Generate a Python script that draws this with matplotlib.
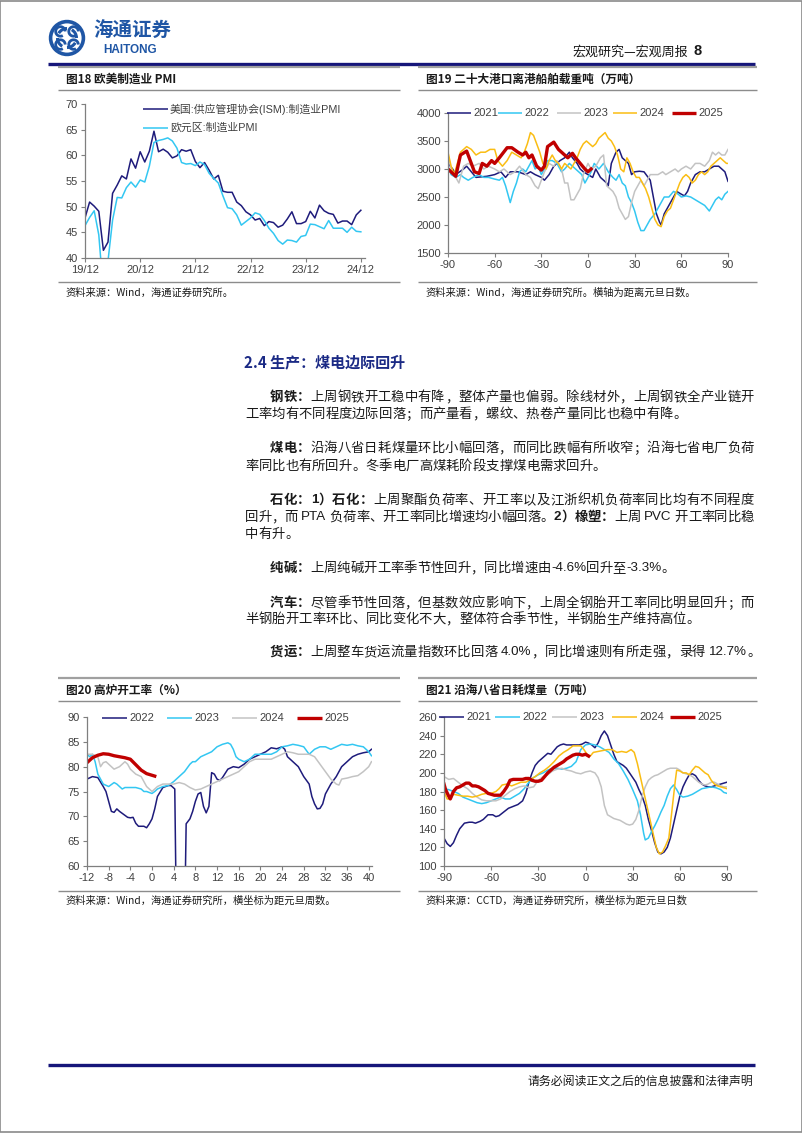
import re
import matplotlib
matplotlib.use('Agg')
import matplotlib.pyplot as plt
from matplotlib.lines import Line2D
from matplotlib.patches import Rectangle, Circle, Arc

plt.rcParams['font.family'] = ['Noto Sans CJK SC', 'DejaVu Sans']
plt.rcParams['axes.unicode_minus'] = False

##-----------------------data--------------------------------##
# fig18: monthly PMI, 19/12 .. 24/12
pmi_ticks = ['19/12', '20/12', '21/12', '22/12', '23/12', '24/12']
ism = [47.8, 50.9, 50.1, 49.1, 41.5, 43.1, 52.6, 54.2, 56.0, 55.4, 59.3, 57.5,
       60.7, 58.7, 60.8, 64.7, 60.7, 61.2, 60.6, 59.5, 59.9, 61.1, 60.8, 61.1,
       58.8, 57.6, 58.6, 57.1, 55.4, 56.1, 53.0, 52.8, 52.8, 50.9, 50.2, 49.0,
       48.4, 47.4, 47.7, 46.3, 47.1, 46.9, 46.0, 46.4, 47.6, 49.0, 46.7, 46.7,
       47.1, 49.1, 47.8, 50.3, 49.2, 48.7, 48.5, 46.8, 47.2, 47.2, 46.5, 48.4, 49.3]
ez = [46.3, 47.9, 49.2, 44.5, 33.4, 39.4, 47.4, 51.8, 51.7, 53.7, 54.8, 53.8,
      55.2, 54.8, 57.9, 62.5, 62.9, 63.1, 63.4, 62.8, 61.4, 58.6, 58.3, 58.4,
      58.0, 58.7, 58.2, 56.5, 55.5, 54.6, 52.1, 49.8, 49.6, 48.4, 46.4, 47.1,
      47.8, 48.8, 48.5, 47.3, 45.8, 44.8, 43.4, 42.7, 43.5, 43.4, 43.1, 44.2,
      44.4, 46.6, 46.5, 46.1, 45.7, 47.3, 45.8, 45.8, 45.8, 45.0, 46.0, 45.2, 45.1]

# fig19: port departures, days from new year
ship_x21 = [-90, -87, -85, -80, -78, -75, -72, -65, -60, -56, -53, -50, -45, -40, -37, -34, -30, -28, -25,
            -22, -18, -15, -12, -10, -7, -5, -3, 0, 3, 5, 8, 12, 13, 15, 18, 20, 22, 24, 26, 28, 30, 33,
            36, 40, 42, 44, 46, 47, 49, 52, 55, 57, 60, 62, 64, 66, 69, 72, 75, 78, 81, 84, 86, 88, 90]
ship_y21 = [3100, 3000, 2900, 3000, 3050, 2950, 2850, 2870, 2900, 2950, 2850, 2950, 2950, 2900, 2950, 2900,
            2850, 2800, 2900, 3050, 3150, 3200, 3300, 3200, 3100, 3000, 2950, 2900, 2850, 3000, 2850, 2750,
            2700, 3100, 3300, 3350, 3200, 3150, 3100, 2900, 2950, 2960, 2950, 2800, 2500, 2200, 2050, 2000,
            2200, 2350, 2500, 2600, 2550, 2520, 2600, 2750, 2900, 2950, 2950, 3000, 3050, 3050, 3000, 2950, 2780]
ship_x22 = [-90, -88, -85, -82, -80, -77, -74, -70, -67, -64, -60, -57, -55, -53, -50, -48, -46, -44, -42,
            -40, -38, -36, -34, -32, -30, -28, -26, -23, -20, -17, -15, -12, -10, -8, -6, -4, -2, 0, 2, 4,
            7, 10, 13, 16, 18, 20, 22, 24, 26, 28, 30, 32, 34, 36, 38, 40, 43, 46, 49, 52, 55, 58, 60, 63,
            66, 69, 72, 75, 78, 80, 82, 84, 86, 88, 90]
ship_y22 = [3050, 2900, 2850, 2900, 2850, 2800, 2850, 2900, 2850, 2850, 2820, 2800, 2850, 2700, 2400, 2600,
            2750, 2950, 3000, 2950, 3050, 3150, 3000, 3050, 2900, 3000, 3150, 3150, 3100, 2950, 3000, 3100,
            3050, 3000, 2950, 2900, 2750, 2850, 2950, 3100, 3000, 3100, 2950, 2850, 2800, 2900, 2750, 2700,
            2500, 2400, 2250, 2050, 1900, 1900, 2000, 2100, 2200, 2350, 2500, 2500, 2600, 2550, 2500, 2520,
            2500, 2450, 2400, 2350, 2250, 2350, 2450, 2500, 2450, 2550, 2600]
ship_x23 = [-90, -88, -85, -83, -80, -77, -74, -70, -67, -64, -60, -57, -54, -50, -47, -44, -40, -37, -34,
            -32, -30, -28, -25, -22, -20, -17, -15, -13, -11, -9, -7, -5, -3, 0, 2, 5, 8, 10, 12, 14, 16,
            18, 20, 22, 24, 26, 28, 30, 32, 34, 36, 38, 40, 42, 45, 48, 50, 53, 56, 58, 60, 63, 66, 69, 72,
            75, 78, 80, 82, 84, 86, 88, 90]
ship_y23 = [3250, 3000, 2850, 2750, 3050, 3100, 3050, 3100, 3000, 3050, 3000, 2950, 3000, 2900, 2950, 3050,
            2900, 2850, 2700, 2650, 2800, 2950, 3100, 3050, 3150, 3000, 2750, 2750, 2450, 2450, 2550, 2650,
            2900, 3100, 3000, 3050, 3200, 3250, 2700, 2650, 2600, 2500, 2300, 2200, 2100, 2150, 2400, 2600,
            2700, 2800, 2700, 2800, 2900, 2900, 2900, 2950, 2900, 2950, 3000, 2950, 3000, 3050, 3000, 3100,
            3100, 3050, 3150, 3300, 3250, 3300, 3250, 3250, 3350]
ship_x24 = [-90, -88, -86, -84, -82, -80, -78, -75, -72, -69, -66, -63, -60, -58, -55, -52, -49, -46, -43,
            -41, -39, -37, -35, -33, -31, -29, -27, -25, -23, -21, -19, -17, -15, -13, -11, -9, -7, -5, -3,
            -1, 1, 3, 5, 7, 9, 11, 13, 15, 17, 19, 21, 23, 25, 27, 29, 31, 33, 35, 37, 39, 41, 43, 45, 47,
            49, 51, 53, 55, 57, 59, 61, 63, 65, 67, 69, 71, 73, 75, 77, 79, 81, 83, 85, 87, 89, 90]
ship_y24 = [3300, 3050, 2900, 3100, 3300, 3350, 3400, 3350, 3250, 3300, 3300, 3350, 3350, 3150, 3050, 3150,
            3300, 3250, 3200, 3300, 3450, 3650, 3600, 3450, 3300, 3100, 3000, 3150, 3250, 3150, 3100, 3000,
            3100, 3050, 3000, 3100, 3200, 3350, 3450, 3500, 3450, 3400, 3450, 3550, 3600, 3650, 3550, 3500,
            3400, 3250, 3000, 2950, 3200, 3100, 2950, 2850, 2850, 2750, 2650, 2500, 2300, 2100, 2000, 1970,
            2150, 2250, 2300, 2450, 2600, 2750, 2850, 2900, 2850, 2750, 2800, 2900, 2950, 2900, 2950, 3050,
            3100, 3150, 3200, 3150, 3100, 3100]
ship_x25 = [-90, -85, -82, -78, -73, -70, -68, -65, -62, -60, -57, -52, -49, -45, -42, -40, -38, -36, -33,
            -30, -28, -26, -22, -19, -15, -13, -10, -8, -5, -2, 0, 2]
ship_y25 = [3000, 2870, 3250, 3320, 2950, 2920, 3100, 3050, 3150, 3100, 3200, 3380, 3380, 3300, 3250, 3300,
            3200, 3250, 3050, 2980, 3050, 3400, 3480, 3350, 3250, 3200, 3280, 3200, 3100, 3000, 2950, 3000]

# fig20: blast furnace rate, weeks from new year
bf_x22 = [-12, -11, -10, -9, -8.5, -8, -7.5, -7, -6.5, -6, -5, -4.5, -4, -3.5, -3, -2.5, -1.5, -1, -0.5, 0,
          0.5, 1, 2, 3, 3.5, 4.2, 4.6, 5.9, 6.3, 7, 7.5, 8, 8.5, 9, 9.5, 10, 10.5, 11, 11.5, 12, 12.5, 13,
          14, 15, 16, 17, 18, 19, 20, 21, 22, 23, 24, 24.5, 25, 26, 27, 28, 29, 29.5, 30, 30.5, 31, 31.5,
          32, 33, 34, 35, 36, 37, 38, 39, 40, 40.5]
bf_y22 = [77.5, 78.0, 77.8, 76.0, 75.0, 73.0, 71.0, 70.8, 71.5, 71.0, 70.2, 69.8, 69.7, 69.8, 68.6, 68.0,
          68.0, 67.7, 68.5, 69.5, 71.5, 74.0, 75.8, 76.2, 76.2, 75.5, 40.0, 40.0, 68.5, 69.5, 71.0, 73.0,
          74.5, 74.8, 72.0, 70.7, 72.0, 78.8, 78.5, 77.5, 77.2, 77.8, 79.5, 80.0, 79.8, 80.5, 81.5, 82.0,
          82.5, 83.0, 83.8, 83.6, 84.0, 83.5, 82.0, 81.0, 80.0, 78.0, 76.5, 74.0, 72.5, 71.5, 71.6, 72.5,
          74.5, 76.5, 78.0, 80.0, 81.0, 82.0, 82.5, 82.8, 83.0, 83.5]
bf_x23 = [-12, -11.5, -11, -10.5, -10, -9, -8, -7, -6.5, -6, -5.5, -5, -4, -3, -2, -1.5, -1, -0.5, 0, 0.5,
          1, 2, 3, 4, 5, 6, 7, 7.5, 8, 9, 10, 11, 12, 13, 14, 14.5, 15, 15.5, 16, 17, 18, 19, 20, 21, 22,
          23, 24, 25, 26, 27, 28, 29, 30, 31, 32, 33, 34, 35, 36, 37, 38, 39, 40, 40.5]
bf_y23 = [82.5, 82.0, 82.5, 81.0, 78.5, 76.5, 76.0, 76.8, 76.5, 76.0, 75.5, 75.8, 75.8, 75.8, 75.5, 75.0,
          75.0, 74.8, 74.6, 75.0, 75.5, 76.0, 76.2, 77.0, 78.0, 79.0, 80.5, 81.0, 81.0, 82.0, 82.5, 83.0,
          84.0, 84.5, 84.8, 84.5, 83.5, 82.0, 81.5, 81.0, 81.5, 82.5, 82.5, 82.5, 82.5, 83.0, 84.0, 84.2,
          84.5, 84.3, 84.0, 82.5, 83.5, 84.0, 84.0, 83.5, 84.0, 84.5, 84.3, 84.5, 84.2, 84.0, 83.0, 82.2]
bf_x24 = [-12, -11, -10, -9.5, -9, -8.5, -8, -7, -6, -5, -4.5, -4, -3, -2, -1.5, -1, -0.5, 0, 0.5, 1, 2,
          3, 4, 5, 6, 7, 8, 9, 10, 11, 12, 13, 14, 15, 16, 17, 18, 19, 20, 21, 22, 23, 24, 25, 26, 27, 28,
          29, 30, 31, 32, 33, 34, 34.5, 35, 36, 37, 38, 39, 40, 40.5]
bf_y24 = [82.5, 82.5, 82.0, 80.0, 80.8, 81.0, 80.5, 79.5, 80.0, 81.0, 80.5, 79.5, 78.5, 78.0, 77.0, 76.0,
          75.5, 75.0, 75.5, 76.0, 76.5, 76.5, 76.5, 76.8, 76.5, 75.8, 75.3, 75.5, 76.0, 76.5, 77.0, 77.5,
          78.0, 78.5, 79.0, 80.0, 81.0, 81.5, 81.5, 81.5, 81.5, 82.0, 82.5, 83.0, 82.8, 82.5, 82.5, 82.5,
          82.0, 80.5, 79.0, 77.5, 76.5, 76.3, 77.5, 77.7, 78.0, 78.2, 79.0, 80.0, 81.0]
bf_x25 = [-12, -11, -10, -9, -8, -7, -6, -5, -4, -3, -2, -1, 0.5]
bf_y25 = [80.8, 81.8, 82.3, 82.6, 82.5, 82.2, 82.0, 81.8, 81.5, 80.4, 79.3, 78.6, 78.1]

# fig21: coastal 8 provinces daily coal burn, days from new year
coal_x21 = [-90, -88, -86, -84, -82, -80, -77, -74, -72, -70, -67, -65, -62, -59, -57, -55, -52, -49, -46,
            -43, -40, -38, -36, -34, -32, -30, -28, -26, -24, -22, -20, -18, -16, -14, -12, -10, -8, -6,
            -4, -2, 0, 2, 4, 6, 8, 10, 12, 14, 16, 18, 20, 22, 24, 26, 28, 30, 32, 34, 36, 38, 40, 42, 44,
            46, 48, 50, 52, 54, 56, 58, 60, 62, 64, 66, 68, 70, 72, 74, 76, 78, 80, 82, 84, 86, 88, 90]
coal_y21 = [130, 124, 121, 125, 133, 140, 146, 147, 147, 146, 148, 150, 155, 155, 153, 154, 158, 162, 164,
            166, 170, 178, 190, 200, 208, 212, 215, 218, 221, 220, 224, 228, 230, 231, 230, 230, 230, 230,
            230, 231, 233, 232, 230, 227, 232, 240, 245, 240, 230, 220, 212, 210, 208, 205, 200, 195, 190,
            182, 175, 165, 150, 138, 125, 115, 113, 115, 120, 130, 145, 160, 175, 185, 192, 198, 199, 197,
            192, 188, 186, 185, 185, 186, 187, 188, 189, 190]
coal_x22 = [-90, -87, -84, -81, -78, -75, -72, -69, -66, -63, -60, -57, -54, -51, -48, -45, -42, -39, -36,
            -33, -30, -27, -24, -21, -18, -15, -12, -9, -6, -3, 0, 3, 6, 9, 12, 15, 18, 21, 24, 27, 30, 33,
            35, 37, 38, 40, 42, 44, 46, 48, 50, 52, 54, 56, 58, 60, 62, 65, 68, 71, 74, 77, 80, 83, 86, 88, 90]
coal_y22 = [183, 182, 180, 178, 174, 172, 170, 168, 167, 168, 170, 172, 174, 172, 172, 175, 178, 183, 190,
            195, 198, 200, 203, 205, 205, 204, 205, 207, 212, 225, 230, 231, 230, 228, 225, 222, 215, 210,
            202, 193, 182, 170, 155, 135, 128, 130, 137, 143, 150, 158, 165, 175, 183, 187, 182, 176, 174,
            175, 177, 180, 183, 184, 185, 184, 182, 179, 178]
coal_x23 = [-90, -87, -84, -81, -78, -75, -72, -69, -66, -63, -60, -57, -54, -51, -48, -45, -42, -39, -36,
            -33, -30, -27, -24, -21, -18, -15, -12, -9, -6, -3, 0, 3, 6, 8, 10, 12, 14, 16, 18, 20, 22, 24,
            26, 28, 30, 32, 34, 36, 38, 40, 42, 44, 46, 48, 50, 52, 54, 56, 58, 60, 62, 64, 66, 68, 70, 72,
            74, 76, 78, 80, 82, 84, 86, 88, 90]
coal_y23 = [196, 193, 194, 190, 186, 183, 178, 174, 171, 170, 170, 170, 172, 176, 180, 183, 185, 186, 184,
            185, 192, 196, 198, 202, 204, 205, 203, 202, 200, 199, 201, 202, 200, 195, 185, 165, 155, 153,
            151, 150, 149, 147, 145, 144, 145, 150, 160, 175, 185, 192, 195, 197, 198, 200, 202, 204, 205,
            205, 205, 203, 200, 199, 198, 196, 193, 190, 188, 187, 188, 190, 190, 188, 186, 185, 185]
coal_x24 = [-90, -88, -86, -84, -81, -78, -75, -72, -69, -66, -63, -60, -57, -55, -53, -50, -47, -44, -41,
            -38, -35, -32, -29, -26, -23, -20, -17, -14, -11, -8, -5, -3, -1, 1, 3, 5, 8, 11, 14, 17, 20,
            23, 26, 29, 31, 33, 35, 37, 39, 41, 43, 45, 47, 49, 51, 53, 55, 57, 58, 60, 62, 64, 66, 68, 70,
            72, 74, 76, 78, 80, 82, 84, 86, 88, 90]
coal_y24 = [180, 172, 172, 177, 176, 175, 175, 174, 175, 177, 178, 178, 180, 183, 187, 188, 186, 188, 190,
            190, 193, 196, 200, 203, 207, 212, 218, 222, 225, 229, 229, 229, 225, 220, 218, 222, 223, 224,
            225, 225, 222, 223, 222, 225, 222, 210, 195, 180, 165, 150, 135, 120, 113, 115, 122, 130, 160,
            190, 203, 202, 200, 200, 198, 203, 207, 206, 203, 200, 198, 192, 188, 186, 185, 184, 183]
coal_x25 = [-90, -89, -87, -86, -84, -82, -80, -78, -76, -74, -72, -70, -68, -66, -64, -62, -60, -58, -56,
            -54, -52, -50, -48, -46, -44, -42, -40, -38, -36, -34, -32, -30, -28, -26, -24, -22, -20, -18,
            -16, -14, -12, -10, -8, -6, -4, -2, 0, 2]
coal_y25 = [188, 182, 175, 172, 180, 184, 185, 187, 189, 189, 186, 186, 185, 183, 181, 178, 177, 176, 176,
            176, 180, 185, 192, 193, 193, 193, 193, 194, 194, 192, 191, 191, 192, 196, 200, 203, 206, 208,
            210, 212, 215, 217, 219, 220, 220, 219, 220, 218]

years4 = ['2021', '2022', '2023', '2024', '2025']

##-----------------------page setup--------------------------------##
W, H = 802, 1133
fig = plt.figure(figsize=(W / 100, H / 100), dpi=100)
fig.patch.set_facecolor('white')

NAVY = '#1E1B7B'
CYAN = '#33C7F2'
GRAY = '#C3C3C3'
GOLD = '#FABD13'
RED = '#C00000'
TXT = '#1a1a1a'
LATIN = ['Liberation Sans', 'Noto Sans CJK SC']


def X(x):
    return x / W


def Y(y):
    return 1 - y / H


def add_ax(x0, y0, x1, y1):
    return fig.add_axes([X(x0), Y(y1), (x1 - x0) / W, (y1 - y0) / H])


def hline(x0, x1, y, color, lw):
    fig.add_artist(Line2D([X(x0), X(x1)], [Y(y), Y(y)], color=color, lw=lw, solid_capstyle='butt'))


def ftext(x, y, s, **kw):
    kw.setdefault('va', 'center')
    return fig.text(X(x), Y(y), s, **kw)


# page border
fig.add_artist(Rectangle((0.0005, 0.0005), 0.999, 0.999, transform=fig.transFigure,
                         fill=False, ec='#8a8a8a', lw=1.2))

# header
lax = add_ax(48, 19, 86, 57)
lax.set_xlim(-1.1, 1.1)
lax.set_ylim(-1.1, 1.1)
lax.set_aspect('equal')
lax.axis('off')
LOGO = '#1F56A5'
lax.add_patch(Circle((0, 0), 0.95, fill=False, ec=LOGO, lw=2.6))
for ang in [0, 90, 180, 270]:
    lax.add_patch(Arc((0, 0), 1.1, 1.1, theta1=ang, theta2=ang + 60, ec=LOGO, lw=2.2))
for cx, cy in [(0.38, 0.38), (-0.38, 0.38), (-0.38, -0.38), (0.38, -0.38)]:
    lax.add_patch(Arc((cx, cy), 0.55, 0.55, theta1=0, theta2=300, ec=LOGO, lw=2.0))
ftext(93, 31, '海通证券', fontsize=14, color=LOGO, fontweight='bold')
ftext(103, 50, 'HAITONG', fontsize=8.5, color=LOGO, fontweight='bold', family=LATIN)

ftext(688, 52, '宏观研究—宏观周报', fontsize=9.4, color=TXT, ha='right')
ftext(694, 51, '8', fontsize=10.5, color=TXT, ha='left', fontweight='bold', family=LATIN)
hline(48, 755, 64, '#16167A', 2.4)

# footer
hline(48, 755, 1065, '#16167A', 2.4)
ftext(753, 1081, '请务必阅读正文之后的信息披露和法律声明', fontsize=8.6, color=TXT, ha='right')


##-----------------------chart helpers--------------------------------##
def panel(x0, x1, ytop, title, src, ysrc_line, ysrc):
    hline(x0, x1, ytop, '#A0A0A0', 1.6)
    ftext(x0 + 8, ytop + 12, title, fontsize=8.4, fontweight='bold', color=TXT)
    hline(x0, x1, ytop + 23, '#8C8C8C', 1.0)
    hline(x0, x1, ysrc_line, '#8C8C8C', 1.0)
    ftext(x0 + 8, ysrc, src, fontsize=7.4, color=TXT)


def style(ax):
    for s in ['top', 'right']:
        ax.spines[s].set_visible(False)
    for s in ['left', 'bottom']:
        ax.spines[s].set_color('#7F7F7F')
        ax.spines[s].set_linewidth(0.9)
    ax.tick_params(direction='out', length=3, width=0.8, color='#7F7F7F',
                   labelsize=8, labelcolor='#404040', pad=2)
    for lab in ax.get_xticklabels() + ax.get_yticklabels():
        lab.set_family(LATIN)


def legend_px(x0, x1, y, color, lw, label, size=8):
    fig.add_artist(Line2D([X(x0), X(x1)], [Y(y), Y(y)], color=color, lw=lw, solid_capstyle='butt'))
    ftext(x1 + 2, y, label, fontsize=size, color='#404040', family=LATIN)


##-----------------------fig 18--------------------------------##
panel(58, 400, 67, '图18 欧美制造业 PMI', '资料来源：Wind，海通证券研究所。', 282, 293)
ax = add_ax(85, 104, 365, 258)
ax.plot(range(len(ism)), ism, color=NAVY, lw=1.1)
ax.plot(range(len(ez)), ez, color=CYAN, lw=1.1)
ax.set_xlim(0, 60.9)
ax.set_ylim(40, 70)
ax.set_yticks(range(40, 71, 5))
ax.set_xticks(range(0, 61, 12))
ax.set_xticklabels(pmi_ticks)
style(ax)
legend_px(143, 168, 109, NAVY, 1.1, '美国:供应管理协会(ISM):制造业PMI', 7.8)
legend_px(143, 168, 128, CYAN, 1.1, '欧元区:制造业PMI', 7.8)

##-----------------------fig 19--------------------------------##
panel(418, 757, 67, '图19 二十大港口离港船舶载重吨（万吨）',
      '资料来源：Wind，海通证券研究所。横轴为距离元旦日数。', 282, 293)
ax = add_ax(448, 113, 728, 253)
ship = [(ship_x21, ship_y21, NAVY, 1.1), (ship_x22, ship_y22, CYAN, 1.1),
        (ship_x23, ship_y23, GRAY, 1.1), (ship_x24, ship_y24, GOLD, 1.1),
        (ship_x25, ship_y25, RED, 2.4)]
for xs, ys, c, lw in ship:
    ax.plot(xs, ys, color=c, lw=lw)
ax.set_xlim(-90, 90)
ax.set_ylim(1500, 4000)
ax.set_xticks(range(-90, 91, 30))
ax.set_yticks(range(1500, 4001, 500))
style(ax)
for (xs, ys, c, lw), lab, lx in zip(ship, years4, [447, 498, 557, 613, 672]):
    legend_px(lx, lx + 24, 113, c, lw, lab, 8)

##-----------------------fig 20--------------------------------##
panel(58, 400, 678, '图20 高炉开工率（%）',
      '资料来源：Wind，海通证券研究所，横坐标为距元旦周数。', 891, 901)
ax = add_ax(87, 717, 372, 866)
bf = [(bf_x22, bf_y22, NAVY, 1.1), (bf_x23, bf_y23, CYAN, 1.1),
      (bf_x24, bf_y24, GRAY, 1.1), (bf_x25, bf_y25, RED, 2.4)]
for xs, ys, c, lw in bf:
    ax.plot(xs, ys, color=c, lw=lw)
ax.set_xlim(-12, 40.6)
ax.set_ylim(60, 90)
ax.set_xticks(range(-12, 41, 4))
ax.set_yticks(range(60, 91, 5))
style(ax)
for (xs, ys, c, lw), lab, lx in zip(bf, years4[1:], [102, 167, 232, 297]):
    legend_px(lx, lx + 25, 718, c, lw, lab, 8)

##-----------------------fig 21--------------------------------##
panel(418, 757, 678, '图21 沿海八省日耗煤量（万吨）',
      '资料来源：CCTD，海通证券研究所，横坐标为距元旦日数', 891, 901)
ax = add_ax(444, 717, 727, 866)
coal = [(coal_x21, coal_y21, NAVY, 1.1), (coal_x22, coal_y22, CYAN, 1.1),
        (coal_x23, coal_y23, GRAY, 1.1), (coal_x24, coal_y24, GOLD, 1.1),
        (coal_x25, coal_y25, RED, 2.4)]
for xs, ys, c, lw in coal:
    ax.plot(xs, ys, color=c, lw=lw)
ax.set_xlim(-90, 90)
ax.set_ylim(100, 260)
ax.set_xticks(range(-90, 91, 30))
ax.set_yticks(range(100, 261, 20))
style(ax)
for (xs, ys, c, lw), lab, lx in zip(coal, years4, [439, 495, 552, 612, 670]):
    legend_px(lx, lx + 25, 717, c, lw, lab, 8)

##-----------------------body text--------------------------------##
ftext(244, 362, '2.4 生产：煤电边际回升', fontsize=10.8, fontweight='bold', color='#1B2A85')

B, R = True, False
body = [
    (397, True, [('钢铁：', B), ('上周钢铁开工稳中有降，整体产量也偏弱。除线材外，上周钢铁全产业链开', R)], True),
    (414, False, [('工率均有不同程度边际回落；而产量看，螺纹、热卷产量同比也稳中有降。', R)], False),
    (448, True, [('煤电：', B), ('沿海八省日耗煤量环比小幅回落，而同比跌幅有所收窄；沿海七省电厂负荷', R)], True),
    (466, False, [('率同比也有所回升。冬季电厂高煤耗阶段支撑煤电需求回升。', R)], False),
    (500, True, [('石化：1）石化：', B), ('上周聚酯负荷率、开工率以及江浙织机负荷率同比均有不同程度', R)], True),
    (517, False, [('回升，而 PTA 负荷率、开工率同比增速均小幅回落。', R), ('2）橡塑：', B),
                  ('上周 PVC 开工率同比稳', R)], True),
    (534, False, [('中有升。', R)], False),
    (568, True, [('纯碱：', B), ('上周纯碱开工率季节性回升，同比增速由-4.6%回升至-3.3%。', R)], False),
    (603, True, [('汽车：', B), ('尽管季节性回落，但基数效应影响下，上周全钢胎开工率同比明显回升；而', R)], True),
    (619, False, [('半钢胎开工率环比、同比变化不大，整体符合季节性，半钢胎生产维持高位。', R)], False),
    (652, True, [('货运：', B), ('上周整车货运流量指数环比回落 4.0%，同比增速则有所走强，录得 12.7%。', R)], False),
]

renderer = fig.canvas.get_renderer()
FS = 9.6
for y, indent, segs, justify in body:
    x0 = 270 if indent else 245
    toks = []
    for s, bold in segs:
        for t in re.findall(r'[A-Za-z0-9.%\-]+| |.', s):
            toks.append((t, bold))
    items = []
    for t, bold in toks:
        if t == ' ':
            items.append((None, FS * 100 / 72 * 0.28))
            continue
        fam = LATIN if re.match(r'[A-Za-z0-9.%\-]', t) else ['Noto Sans CJK SC', 'DejaVu Sans']
        obj = ftext(0, y, t, fontsize=FS, color=TXT, family=fam,
                    fontweight='bold' if bold else 'normal')
        items.append((obj, obj.get_window_extent(renderer).width))
    natural = sum(w for _, w in items)
    gap = (754 - x0 - natural) / (len(items) - 1) if justify else 0
    x = x0
    for obj, w in items:
        if obj is not None:
            obj.set_x(X(x))
        x += w + gap

plt.savefig('out.png', dpi=100)
print('done')
